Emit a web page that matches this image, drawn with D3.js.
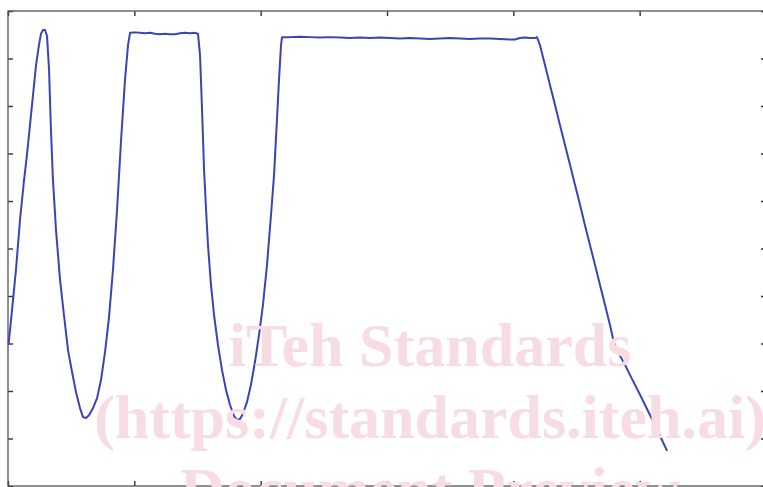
<!DOCTYPE html>
<html>
<head>
<meta charset="utf-8">
<script src="https://cdn.jsdelivr.net/npm/d3@7"></script>
<style>
  body { margin: 0; background: #fff; }
  svg { display: block; }
</style>
</head>
<body>
<svg id="chart" width="763" height="487"></svg>
<script>
// trace (x in axis units 0..6, y in axis units 0..10)
const xs = [0.004,0.032,0.063,0.095,0.127,0.150,0.174,0.198,0.222,0.245,0.261,0.277,0.293,0.309,0.325,0.340,0.356,0.380,0.412,0.443,0.475,0.507,0.538,0.570,0.594,0.617,0.641,0.673,0.705,0.736,0.768,0.799,0.831,0.863,0.895,0.926,0.950,0.966,
  1.005,1.045,1.084,1.124,1.164,1.203,1.243,1.282,1.322,1.362,1.401,1.441,1.480,1.504,
  1.520,1.536,1.552,1.568,1.583,1.607,1.631,1.662,1.694,1.726,1.757,1.789,1.813,1.836,1.860,1.892,1.923,1.955,1.987,2.018,2.050,2.082,2.106,2.129,2.145,2.161,2.169,
  2.232,2.312,2.391,2.470,2.549,2.628,2.707,2.786,2.865,2.944,3.024,3.103,3.182,3.261,3.340,3.419,3.498,3.577,3.656,3.736,3.815,3.894,3.973,4.013,4.052,4.092,4.132,4.171,4.187,
  4.211,4.251,4.290,4.330,4.369,4.409,4.449,4.488,4.528,4.567,4.607,4.647,4.686,4.726,4.765,4.797,4.829,4.884,4.940,5.003,5.066,5.122,5.169,5.217];
const ys = [2.97,3.71,4.55,5.60,6.44,6.97,7.60,8.23,8.86,9.28,9.52,9.60,9.60,9.47,8.76,7.49,6.44,5.39,4.34,3.60,2.86,2.40,1.98,1.64,1.45,1.43,1.49,1.64,1.85,2.23,2.82,3.54,4.55,5.81,7.28,8.55,9.28,9.54,
  9.55,9.54,9.53,9.54,9.52,9.51,9.52,9.51,9.51,9.53,9.54,9.53,9.54,9.52,
  9.07,7.92,6.65,5.81,5.07,4.23,3.60,2.97,2.44,2.02,1.71,1.47,1.39,1.41,1.52,1.77,2.13,2.61,3.18,3.81,4.65,5.71,6.55,7.71,8.55,9.28,9.45,
  9.45,9.46,9.45,9.44,9.45,9.44,9.43,9.44,9.43,9.44,9.43,9.42,9.43,9.42,9.41,9.42,9.43,9.42,9.41,9.42,9.42,9.41,9.40,9.40,9.43,9.44,9.43,9.43,9.45,
  9.28,8.86,8.44,8.02,7.60,7.18,6.76,6.34,5.92,5.49,5.07,4.65,4.23,3.81,3.39,3.01,2.82,2.55,2.25,1.92,1.58,1.28,1.01,0.74];
const xTicks = [0, 1, 2, 3, 4, 5, 6];
const yTicks = [0, 1, 2, 3, 4, 5, 6, 7, 8, 9, 10];
const watermark = ["iTeh Standards", "(https://standards.iteh.ai)", "Document Preview"];

const svg = d3.select("#chart");
const margin = {top: 11, right: -3, bottom: 1, left: 8};
const width = 763 - margin.left - margin.right;
const height = 487 - margin.top - margin.bottom;

const x = d3.scaleLinear().domain([0, 6]).range([0, width]);
const y = d3.scaleLinear().domain([0, 10]).range([height, 0]);

const g = svg.append("g").attr("transform", `translate(${margin.left},${margin.top})`);

// ticks pointing inward on all four sides, no labels
const tickLen = 5;
const axes = [
  d3.axisBottom(x).tickValues(xTicks).tickSize(-tickLen).tickFormat(""),
  d3.axisTop(x).tickValues(xTicks).tickSize(-tickLen).tickFormat(""),
  d3.axisLeft(y).tickValues(yTicks).tickSize(-tickLen).tickFormat(""),
  d3.axisRight(y).tickValues(yTicks).tickSize(-tickLen).tickFormat("")
];
const shifts = [`translate(0,${height})`, "translate(0,0)", "translate(0,0)", `translate(${width},0)`];
axes.forEach((ax, i) => {
  const a = g.append("g").attr("transform", shifts[i]).call(ax);
  a.select(".domain").remove();
  a.selectAll("line").attr("stroke", "#333").attr("stroke-width", 1.4);
});

g.append("rect")
  .attr("width", width).attr("height", height)
  .attr("fill", "none").attr("stroke", "#555").attr("stroke-width", 1.3);

// pink watermark, drawn under the trace
const wm = svg.append("g")
  .attr("font-family", "'Liberation Serif', 'DejaVu Serif', serif")
  .attr("font-weight", "bold")
  .attr("font-size", 62)
  .attr("fill", "#f8dce3")
  .attr("text-anchor", "middle");
wm.selectAll("text").data(watermark).enter().append("text")
  .attr("x", 430)
  .attr("y", (d, i) => 366 + i * 72)
  .text(d => d);

const line = d3.line().x((d, i) => x(xs[i])).y((d, i) => y(ys[i]));
g.append("path")
  .datum(xs)
  .attr("d", line)
  .attr("fill", "none")
  .attr("stroke", "#3b44b3")
  .attr("stroke-width", 2)
  .attr("stroke-linejoin", "round");
</script>
</body>
</html>
